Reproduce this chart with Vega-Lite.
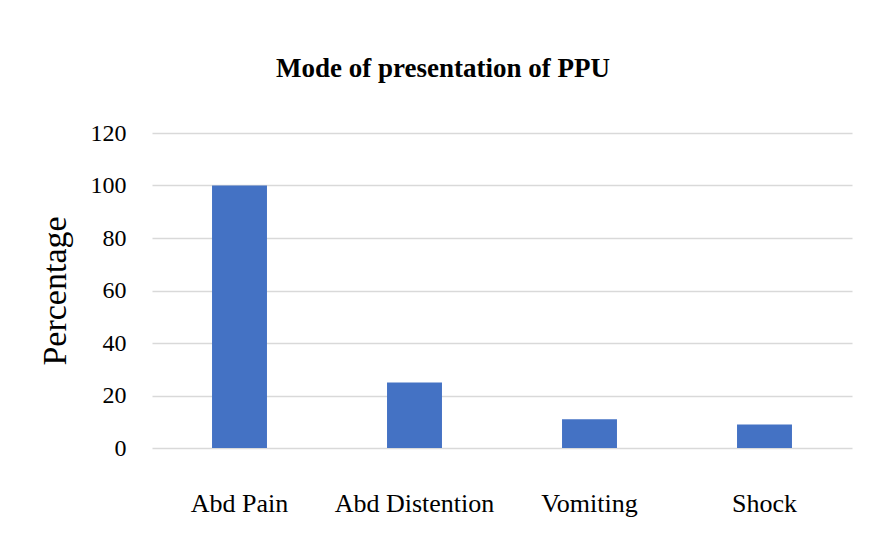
{
  "$schema": "https://vega.github.io/schema/vega-lite/v6.json",
  "autosize": {"type": "none"},
  "width": 700,
  "height": 315,
  "padding": {"left": 152, "top": 133, "right": 19, "bottom": 107},
  "background": "white",
  "config": {
    "view": {"stroke": null},
    "font": "Liberation Serif"
  },
  "title": {
    "text": "Mode of presentation of PPU",
    "font": "Liberation Serif",
    "fontSize": 27,
    "fontWeight": "bold",
    "color": "#000000",
    "anchor": "middle",
    "dx": -59,
    "offset": 38
  },
  "data": {
    "values": [
      {"symptom": "Abd Pain", "pct": 100},
      {"symptom": "Abd Distention", "pct": 25},
      {"symptom": "Vomiting", "pct": 11},
      {"symptom": "Shock", "pct": 9}
    ]
  },
  "mark": {"type": "bar", "color": "#4472C4"},
  "encoding": {
    "x": {
      "field": "symptom",
      "type": "nominal",
      "sort": null,
      "scale": {"paddingInner": 0.686, "paddingOuter": 0.343},
      "axis": {
        "title": null,
        "labelAngle": 0,
        "labelFont": "Liberation Serif",
        "labelFontSize": 26,
        "labelColor": "#000000",
        "labelPadding": 42,
        "ticks": false,
        "domain": false
      }
    },
    "y": {
      "field": "pct",
      "type": "quantitative",
      "scale": {"domain": [0, 120]},
      "axis": {
        "values": [0, 20, 40, 60, 80, 100, 120],
        "title": "Percentage",
        "titleFont": "Liberation Serif",
        "titleFontSize": 34,
        "titleFontWeight": "normal",
        "titleColor": "#000000",
        "titlePadding": 18,
        "labelFont": "Liberation Serif",
        "labelFontSize": 24,
        "labelColor": "#000000",
        "labelPadding": 26,
        "ticks": false,
        "domain": false,
        "grid": true,
        "gridColor": "#d9d9d9",
        "gridWidth": 1.5
      }
    }
  }
}
